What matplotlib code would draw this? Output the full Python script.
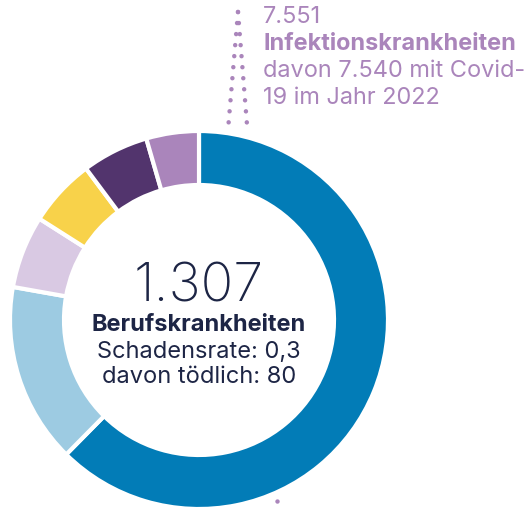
import matplotlib.pyplot as plt

# Anteile der Ringsegmente (im Uhrzeigersinn ab 12 Uhr), in Prozent
segment_names = ["Blau", "Hellblau", "Flieder", "Gelb", "Dunkellila", "Lila"]
segment_shares = [62.4, 15.4, 6.2, 5.8, 5.7, 4.5]
segment_colors = ["#027cb7", "#9dcbe2", "#d9c9e3", "#f8d24a", "#52346d", "#aa85bb"]

center_number = "1.307"
center_title = "Berufskrankheiten"
center_lines = ["Schadensrate: 0,3", "davon tödlich: 80"]

label_number = "7.551"
label_title = "Infektionskrankheiten"
label_lines = ["davon 7.540 mit Covid-", "19 im Jahr 2022"]

W, H = 532, 510
navy = "#1d2545"
purple = "#aa85bb"

plt.rcParams['font.family'] = ['Inter', 'DejaVu Sans']

fig = plt.figure(figsize=(W / 100, H / 100), dpi=100)
ax = fig.add_axes([0, 0, 1, 1])

cx, cy = 199, H - 321
ax.pie(segment_shares, colors=segment_colors, startangle=90, counterclock=False,
       center=(cx, cy), radius=189,
       wedgeprops=dict(width=54, edgecolor="white", linewidth=3))

ax.set_xlim(0, W)
ax.set_ylim(0, H)
ax.set_aspect("equal")
ax.axis("off")

def px(v):
    return v * 0.72

# Mitte
ax.text(cx, H - 287, center_number, ha="center", va="center",
        fontsize=px(54), color=navy, fontweight="light")
ax.text(cx, H - 325, center_title, ha="center", va="center",
        fontsize=px(23.6), color=navy, fontweight="bold")
ax.text(cx, H - 352, center_lines[0], ha="center", va="center",
        fontsize=px(23.6), color=navy)
ax.text(cx, H - 377, center_lines[1], ha="center", va="center",
        fontsize=px(23.6), color=navy)

# Beschriftung oben rechts
tx = 263
ax.text(tx, H - 17, label_number, ha="left", va="center", fontsize=px(23.5), color=purple)
ax.text(tx, H - 44, label_title, ha="left", va="center", fontsize=px(23.5),
        color=purple, fontweight="bold")
ax.text(tx, H - 71, label_lines[0], ha="left", va="center", fontsize=px(23.5), color=purple)
ax.text(tx, H - 98, label_lines[1], ha="left", va="center", fontsize=px(23.5), color=purple)

# gepunktete Hinweislinien
dot = dict(color=purple, linewidth=px(4.5), linestyle=(0, (0.01, 2.45)),
           dash_capstyle="round")
ax.plot([238, 228.5], [H - 13, H - 125], **dot)
ax.plot([238, 247.5], [H - 13, H - 132], **dot)
ax.plot([277, 277], [H - 502, H - 530], **dot)

fig.savefig("out.png", dpi=100)
